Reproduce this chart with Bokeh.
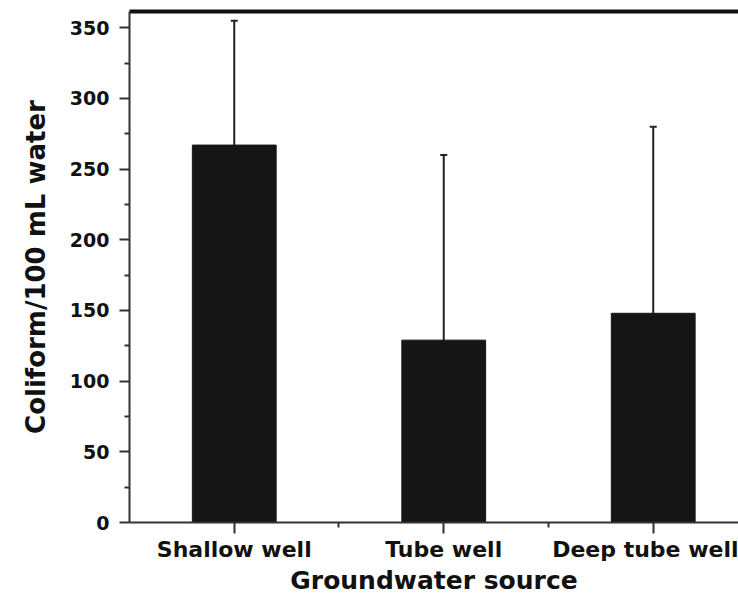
from bokeh.plotting import figure
from bokeh.models import Range1d, FixedTicker, Whisker, TeeHead, ColumnDataSource, LinearAxis
from bokeh.embed import file_html
from bokeh.resources import INLINE

categories = ["Shallow well", "Tube well", "Deep tube well"]
coliform_mean = [267, 129, 148]
coliform_sd = [88, 131, 132]
y_major = [0, 50, 100, 150, 200, 250, 300, 350]
y_minor = [25, 75, 125, 175, 225, 275, 325]

xs = list(range(len(categories)))
src = ColumnDataSource(dict(
    x=xs,
    mean=coliform_mean,
    upper=[m + s for m, s in zip(coliform_mean, coliform_sd)],
))

p = figure(width=738, height=597, x_range=Range1d(-0.5, 2.407), y_range=Range1d(0, 361.5),
           output_backend="svg", toolbar_location=None,
           min_border_left=129, min_border_top=11, min_border_right=0, min_border_bottom=0)
p.xgrid.visible = False
p.ygrid.visible = False
p.outline_line_color = None
p.background_fill_color = "white"
p.border_fill_color = "white"

xa = p.below[0]
ya = p.left[0]

p.vbar(x="x", top="mean", width=0.4, source=src, fill_color="#151515", line_color="#151515")
w = Whisker(base="x", lower="mean", upper="upper", source=src, line_width=2, line_color="#222222",
            upper_head=TeeHead(size=7, line_width=2, line_color="#222222"), lower_head=None)
p.add_layout(w)

# top frame line
top = LinearAxis(ticker=FixedTicker(ticks=[]), major_label_text_font_size="0px",
                 major_tick_out=0, major_tick_in=0, minor_tick_out=0, minor_tick_in=0,
                 major_label_standoff=0, axis_line_width=4, axis_line_color="#111111")
p.add_layout(top, "above")

FONT = "DejaVu Sans"
# x axis
xa.ticker = FixedTicker(ticks=xs, minor_ticks=[i + 0.5 for i in xs[:-1]])
xa.major_label_overrides = {i: c for i, c in zip(xs, categories)}
xa.axis_label = "Groundwater source"
xa.axis_label_text_font = FONT
xa.axis_label_text_font_style = "bold"
xa.axis_label_text_font_size = "25px"
xa.axis_label_text_color = "#111111"
xa.axis_label_standoff = 1
xa.major_label_text_font = FONT
xa.major_label_text_font_style = "bold"
xa.major_label_text_font_size = "22px"
xa.major_label_text_color = "#111111"
xa.major_label_standoff = 3
xa.major_tick_out = 11
xa.major_tick_in = 0
xa.minor_tick_out = 5
xa.minor_tick_in = 0
xa.axis_line_width = 2
xa.axis_line_color = "#333333"
xa.major_tick_line_width = 2
xa.major_tick_line_color = "#333333"
xa.minor_tick_line_width = 2
xa.minor_tick_line_color = "#333333"

# y axis
ya.ticker = FixedTicker(ticks=y_major, minor_ticks=y_minor)
ya.axis_label = "Coliform/100 mL water"
ya.axis_label_text_font = FONT
ya.axis_label_text_font_style = "bold"
ya.axis_label_text_font_size = "26px"
ya.axis_label_text_color = "#111111"
ya.axis_label_standoff = 16
ya.major_label_text_font = FONT
ya.major_label_text_font_style = "bold"
ya.major_label_text_font_size = "19px"
ya.major_label_text_color = "#111111"
ya.major_label_standoff = 10
ya.major_tick_out = 10
ya.major_tick_in = 0
ya.minor_tick_out = 5
ya.minor_tick_in = 0
ya.axis_line_width = 2
ya.axis_line_color = "#333333"
ya.major_tick_line_width = 2
ya.major_tick_line_color = "#333333"
ya.minor_tick_line_width = 2
ya.minor_tick_line_color = "#333333"

open("out.html", "w").write(file_html(p, INLINE))
